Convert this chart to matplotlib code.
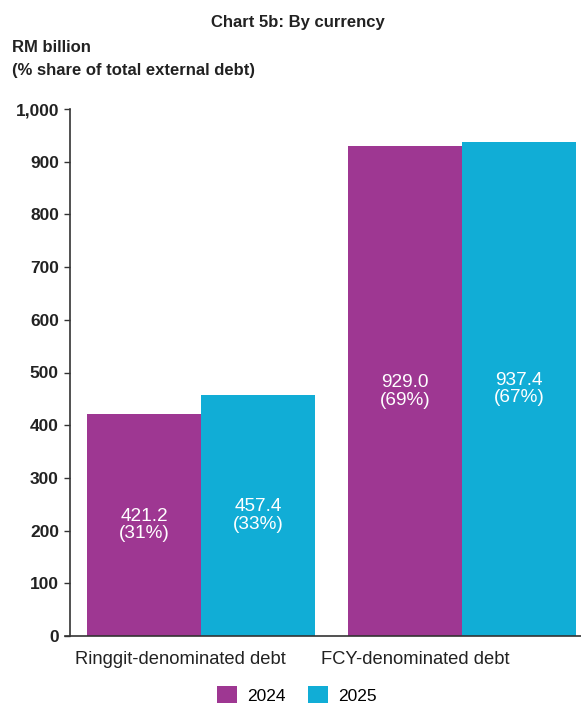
import matplotlib.pyplot as plt
import numpy as np

plt.rcParams['font.family'] = ['Liberation Sans', 'DejaVu Sans']

categories = ['Ringgit-denominated debt', 'FCY-denominated debt']
years = ['2024', '2025']
values_2024 = [421.2, 929.0]
values_2025 = [457.4, 937.4]
shares_2024 = [31, 69]
shares_2025 = [33, 67]

colors = {'2024': '#9E3792', '2025': '#11ADD6'}
axis_color = '#333333'
text_color = '#222222'
bar_width = 0.437

fig = plt.figure(figsize=(5.81, 7.04), dpi=100)
ax = fig.add_axes([70 / 581, 68 / 704, 511 / 581, 527 / 704])

x = np.arange(len(categories))
series = [(values_2024, shares_2024, '2024', -0.5), (values_2025, shares_2025, '2025', 0.5)]
for vals, shares, year, off in series:
    bars = ax.bar(x + off * bar_width, vals, width=bar_width, color=colors[year], label=year)
    for b, v, s in zip(bars, vals, shares):
        ax.text(b.get_x() + b.get_width() / 2, v / 2, f'{v:.1f}\n({s}%)',
                ha='center', va='center', color='white', fontsize=13.7,
                linespacing=1.05)

ax.set_xlim(-0.502, 1.456)
ax.set_ylim(0, 1000)
ax.set_yticks(range(0, 1001, 100))
ax.set_yticklabels([f'{t:,}' for t in range(0, 1001, 100)], fontweight='bold')
# category labels sit left of the group centres in the original
ax.set_xticks(x + np.array([-0.079, -0.18]))
ax.set_xticklabels(categories, fontsize=13.2)

for side in ['top', 'right']:
    ax.spines[side].set_visible(False)
for side in ['left', 'bottom']:
    ax.spines[side].set_color(axis_color)
    ax.spines[side].set_linewidth(1.2)
ax.spines['bottom'].set_bounds(-0.52, 1.456)

ax.tick_params(axis='y', length=4, width=1.0, color=axis_color, pad=4,
               labelsize=12.5, labelcolor=text_color)
ax.tick_params(axis='x', length=0, pad=11, labelcolor=text_color)

fig.text(298 / 581, 1 - 22 / 704, 'Chart 5b: By currency', ha='center', va='center',
         fontsize=12, fontweight='bold', color=text_color)
fig.text(12 / 581, 1 - 47 / 704, 'RM billion', ha='left', va='center',
         fontsize=12, fontweight='bold', color=text_color)
fig.text(12 / 581, 1 - 71 / 704, '(% share of total external debt)', ha='left', va='center',
         fontsize=12, fontweight='bold', color=text_color)

fig.legend(loc='center', bbox_to_anchor=(297 / 581, 9 / 704), ncol=2, frameon=False,
           fontsize=12.5, handlelength=1.15, handleheight=1.15, handletextpad=0.6,
           columnspacing=1.3, borderaxespad=0, borderpad=0)

fig.savefig('out.png', dpi=100)
